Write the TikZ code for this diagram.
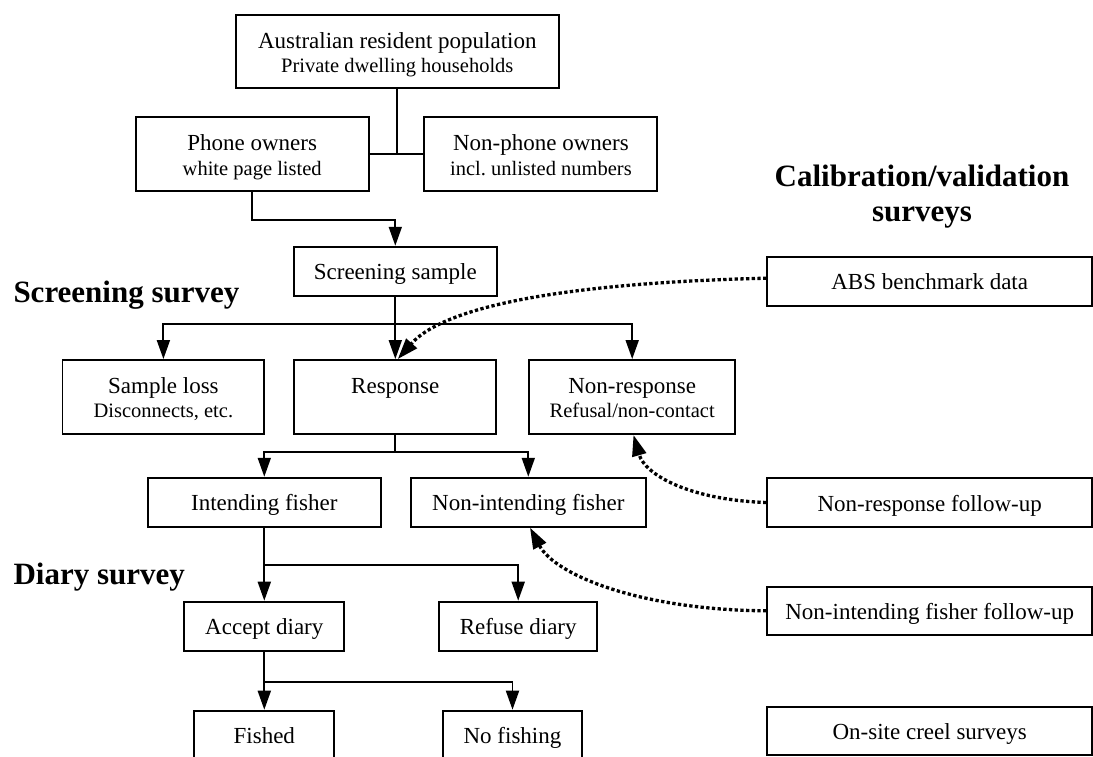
\documentclass[tikz,border=0pt]{standalone}
\usepackage{fontspec}
\setmainfont{Liberation Serif}
\usetikzlibrary{arrows.meta,calc}
\newcommand\twol[2]{\vtop{\baselineskip=24.4pt\lineskiplimit=-100pt\lineskip=0pt\halign{\hfil##\hfil\cr\fontsize{23}{24.4}\selectfont #1\cr\fontsize{20.5}{24.4}\selectfont #2\cr}}}
\newcommand\calhead{\vtop{\baselineskip=35.7pt\lineskiplimit=-100pt\lineskip=0pt\halign{\hfil##\hfil\cr Calibration/validation\cr surveys\cr}}}
\tikzset{
  boxbase/.style={draw, line width=1.9pt, inner sep=0pt, font=\fontsize{23}{24.4}\selectfont},
  boxone/.style={boxbase, text height=17pt, text depth=0pt},
  boxtwo/.style={boxbase, text height=0pt, text depth=7pt},
  head/.style={inner sep=0pt, font=\bfseries\fontsize{31}{35.7}\selectfont},
  conn/.style={line width=1.9pt},
  arr/.style={conn, -{Triangle[length=19pt,width=13pt]}},
  dotarr/.style={line width=3.3pt, dash pattern=on 3.3pt off 2.4pt, -{Triangle[length=21pt,width=14pt]}}
}
\begin{document}
\begin{tikzpicture}[x=1pt,y=-1pt]
\useasboundingbox (0,0) rectangle (1093,756);
% left column boxes
\node[boxtwo, minimum width=323pt, minimum height=73.6pt] (aus) at (397.3,51.5) {\twol{Australian resident population}{Private dwelling households}};
\node[boxtwo, minimum width=233pt, minimum height=73.7pt] (phone) at (252.2,154.2) {\twol{Phone owners}{white page listed}};
\node[boxtwo, minimum width=233pt, minimum height=73.7pt] (nonphone) at (540.9,154.2) {\twol{Non-phone owners}{incl.\ unlisted numbers}};
\node[boxone, minimum width=203.5pt, minimum height=49pt] (screen) at (395.3,271.2) {Screening sample};
\node[boxtwo, minimum width=201.8pt, minimum height=74pt] (loss) at (163.4,397) {\twol{Sample loss}{Disconnects, etc.}};
\node[boxtwo, minimum width=201.8pt, minimum height=74pt] (resp) at (395.3,397) {Response};
\node[boxtwo, minimum width=205.7pt, minimum height=74pt] (nonresp) at (632.2,397) {\twol{Non-response}{Refusal/non-contact}};
\node[boxone, minimum width=233pt, minimum height=49pt] (intend) at (264.3,502.2) {Intending fisher};
\node[boxone, minimum width=235pt, minimum height=49pt] (nonint) at (528.3,502.2) {Non-intending fisher};
\node[boxone, minimum width=160pt, minimum height=49.3pt] (accept) at (264.3,626.3) {Accept diary};
\node[boxone, minimum width=158pt, minimum height=49.3pt] (refuse) at (518.2,626.3) {Refuse diary};
\node[boxone, minimum width=140pt, minimum height=49.3pt] (fished) at (264.3,735.3) {Fished};
\node[boxone, minimum width=138.4pt, minimum height=49.3pt] (nofish) at (512.5,735.3) {No fishing};
% right column boxes
\node[boxone, minimum width=324.7pt, minimum height=49pt] (abs) at (929.7,281.2) {ABS benchmark data};
\node[boxone, minimum width=324.7pt, minimum height=48.4pt] (nrfu) at (929.7,502.5) {Non-response follow-up};
\node[boxone, minimum width=324.7pt, minimum height=48.3pt] (nifu) at (929.7,610.8) {Non-intending fisher follow-up};
\node[boxone, minimum width=324.7pt, minimum height=48.3pt] (creel) at (929.7,730.8) {On-site creel surveys};
% headings
\node[head, anchor=base west] (hscreen) at (13.3,302) {Screening survey};
\node[head, anchor=base west] (hdiary) at (13.3,584) {Diary survey};
\node[head, anchor=base] (hcal) at (922,186) {\calhead};
% connectors
\draw[conn] (aus.south) -- (aus.south |- phone.east);
\draw[conn] (phone.east) -- (nonphone.west);
\draw[arr] (phone.south) -- ++(0,28) -| (screen.north);
\draw[arr] (screen.south) -- (resp.north);
\draw[arr] (screen.south) ++(0,27) -| (loss.north);
\draw[arr] (screen.south) ++(0,27) -| (nonresp.north);
\draw[conn] (resp.south) -- ++(0,17);
\draw[arr] (resp.south) ++(0,17) -| (intend.north);
\draw[arr] (resp.south) ++(0,17) -| (nonint.north);
\draw[arr] (intend.south) -- (accept.north);
\draw[arr] (intend.south) ++(0,37.3) -| (refuse.north);
\draw[arr] (accept.south) -- (fished.north);
\draw[arr] (accept.south) ++(0,30) -| (nofish.north);
% dotted calibration links
\draw[dotarr] ([yshift=3pt]abs.west) .. controls (600,282) and (450,300) .. ([xshift=2.5pt]resp.north);
\draw[dotarr] (nrfu.west) .. controls (690,500) and (645,475) .. ([xshift=1.3pt]nonresp.south);
\draw[dotarr] (nifu.west) .. controls (640,610) and (555,575) .. ([xshift=1.7pt]nonint.south);
\end{tikzpicture}
\end{document}
